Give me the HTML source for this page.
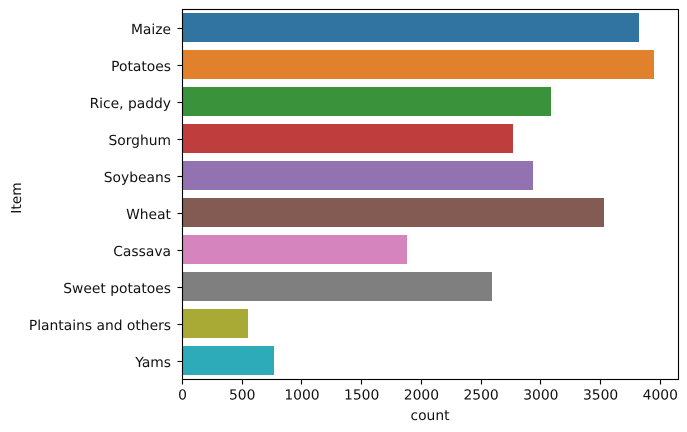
<!DOCTYPE html>
<html>
<head>
<meta charset="utf-8">
<style>
html,body{margin:0;padding:0;background:#fff;}
svg{display:block;}
text{font-family:"DejaVu Sans",sans-serif;font-size:13.85px;fill:#111;text-rendering:geometricPrecision;}
</style>
</head>
<body>
<svg id="chart" width="687" height="432" viewBox="0 0 687 432" xmlns="http://www.w3.org/2000/svg"></svg>
<script>
const categories = ["Maize","Potatoes","Rice, paddy","Sorghum","Soybeans","Wheat","Cassava","Sweet potatoes","Plantains and others","Yams"];
const counts = [3822,3948,3086,2768,2935,3528,1880,2591,549,767];
const barColors = ["#3274a1","#e1812c","#3a923a","#c03d3e","#9372b2","#845b53","#d684bd","#7f7f7f","#a9aa35","#2eabb8"];
const xTicks = [0,500,1000,1500,2000,2500,3000,3500,4000];

const NS = "http://www.w3.org/2000/svg";
const svg = document.getElementById("chart");
const left = 182.5, right = 678.5, top_ = 9.5, bottom = 379.5;
const pxPerUnit = 0.11945;
const x = v => left + v * pxPerUnit;
const band = (bottom - top_) / categories.length;
const y = i => top_ + band * (i + 0.5);
const barH = 29;
const snap = v => Math.floor(v) + 0.5;

function make(tag, attrs, parent) {
  const el = document.createElementNS(NS, tag);
  for (const k in attrs) el.setAttribute(k, attrs[k]);
  (parent || svg).appendChild(el);
  return el;
}

counts.forEach((v, i) => {
  const bar = make("rect", {x: left, y: Math.round(y(i) - 15), width: Math.round(x(v)) - left, height: barH, fill: barColors[i], "shape-rendering": "crispEdges"});
  
  
});

categories.forEach((c, i) => {
  const tick = make("line", {x1: left - 5, x2: left, y1: snap(y(i)), y2: snap(y(i)), stroke: "#000", "stroke-width": 1.11});
  
  
  const label = make("text", {x: left - 11.5, y: y(i) + 6, "text-anchor": "end"});
  label.textContent = c;
  
  
});

xTicks.forEach(t => {
  const tick = make("line", {x1: snap(x(t)), x2: snap(x(t)), y1: bottom, y2: bottom + 5, stroke: "#000", "stroke-width": 1.11});
  
  
  const label = make("text", {x: x(t), y: bottom + 20, "text-anchor": "middle"});
  label.textContent = t;
  
  
});

const frame = make("rect", {x: left, y: top_, width: right - left, height: bottom - top_, fill: "none", stroke: "#000", "stroke-width": 1.11});



const xTitle = make("text", {x: 430, y: 420, "text-anchor": "middle"});
xTitle.textContent = "count";



const yTitle = make("text", {x: 0, y: 0, "text-anchor": "middle", transform: "translate(21 198) rotate(-90)"});
yTitle.textContent = "Item";


</script>
</body>
</html>
